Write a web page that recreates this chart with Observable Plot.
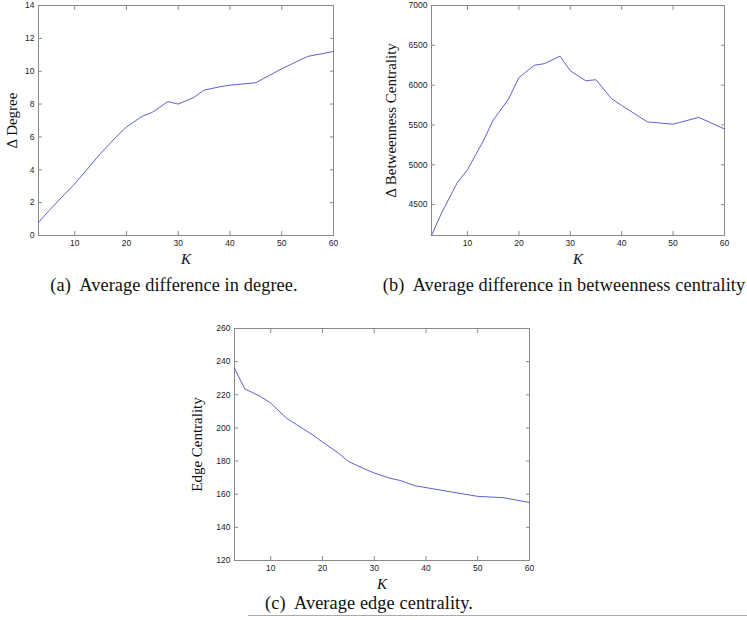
<!DOCTYPE html>
<html>
<head>
<meta charset="utf-8">
<script src="https://cdn.jsdelivr.net/npm/d3@7"></script>
<script src="https://cdn.jsdelivr.net/npm/@observablehq/plot@0.6"></script>
<style>
  html, body { margin: 0; padding: 0; background: #fff; }
  #wrap { position: relative; width: 747px; height: 620px; overflow: hidden; }
  .panel { position: absolute; }
  .cap { position: absolute; font-family: "Liberation Serif", serif; font-size: 18.3px; letter-spacing: 0.1px; color: #111; white-space: pre; transform: translate(-50%, -50%); }
  #rule { position: absolute; left: 248px; top: 615px; width: 499px; height: 1px; background: #aaa; }
</style>
</head>
<body>
<div id="wrap"></div>
<script>
// ---- data ----
const K = [3, 5, 8, 10, 13, 15, 18, 20, 23, 25, 28, 30, 33, 35, 38, 40, 45, 50, 55, 60];
const deltaDegree = [0.8, 1.5, 2.5, 3.15, 4.25, 5.0, 6.0, 6.6, 7.25, 7.5, 8.15, 8.0, 8.4, 8.85, 9.05, 9.15, 9.3, 10.15, 10.9, 11.2];
const deltaBetweenness = [4112, 4400, 4773, 4938, 5290, 5560, 5826, 6095, 6250, 6270, 6364, 6180, 6055, 6068, 5830, 5745, 5538, 5510, 5595, 5450];
const edgeCentrality = [236, 223.5, 219, 215, 206, 202, 196, 191.5, 185, 179.8, 175.4, 172.8, 169.7, 168.3, 165, 164, 161.3, 158.7, 157.9, 155];

const xTicks = [10, 20, 30, 40, 50, 60];
const yTicksA = [0, 2, 4, 6, 8, 10, 12, 14];
const yTicksB = [4500, 5000, 5500, 6000, 6500, 7000];
const yTicksC = [120, 140, 160, 180, 200, 220, 240, 260];

const xLabel = "K";
const yLabelA = "Δ Degree";
const yLabelB = "Δ Betweenness Centrality";
const yLabelC = "Edge Centrality";
const captionA = "(a)  Average difference in degree.";
const captionB = "(b)  Average difference in betweenness centrality";
const captionC = "(c)  Average edge centrality.";

const lineColor = "#5f5fd8";
const axisColor = "#8a8a8a";

function panel({values, yDomain, yTicks, yLabel, width, height, mL, mR, mT, mB, yLabelDx}) {
  const data = K.map((k, i) => ({k, v: values[i]}));
  const fmt = d3.format("d");
  const tickOpts = {stroke: axisColor, tickSize: -4, tickPadding: 8, fill: "#222", fontSize: 8.5, label: null, tickFormat: fmt};
  return Plot.plot({
    width, height,
    marginLeft: mL, marginRight: mR, marginTop: mT, marginBottom: mB,
    style: {fontFamily: "Liberation Sans, Arial, sans-serif", background: "#fff"},
    x: {domain: [K[0], K[K.length - 1]]},
    y: {domain: yDomain},
    marks: [
      Plot.axisX(xTicks, {...tickOpts, anchor: "bottom"}),
      Plot.axisX(xTicks, {...tickOpts, anchor: "top", tickFormat: () => ""}),
      Plot.axisY(yTicks, {...tickOpts, anchor: "left"}),
      Plot.axisY(yTicks, {...tickOpts, anchor: "right", tickFormat: () => ""}),
      Plot.frame({stroke: axisColor}),
      Plot.line(data, {x: "k", y: "v", stroke: lineColor, strokeWidth: 1}),
      Plot.text([xLabel], {frameAnchor: "bottom", dy: 28, fontFamily: "Liberation Serif, serif", fontStyle: "italic", fontSize: 15, fill: "#111"}),
      Plot.text([yLabel], {frameAnchor: "left", textAnchor: "middle", rotate: -90, dx: yLabelDx, fontFamily: "Liberation Serif, serif", fontSize: 15, fill: "#111"})
    ]
  });
}

const wrap = document.getElementById("wrap");
function place(el, left, top) {
  el.classList.add("panel");
  el.style.left = left + "px";
  el.style.top = top + "px";
  wrap.appendChild(el);
}

place(panel({values: deltaDegree, yDomain: [0, 14], yTicks: yTicksA, yLabel: yLabelA,
  width: 345, height: 275, mL: 38, mR: 12, mT: 5, mB: 40, yLabelDx: -26.5}), 0, 0);
place(panel({values: deltaBetweenness, yDomain: [deltaBetweenness[0], 7000], yTicks: yTicksB, yLabel: yLabelB,
  width: 355, height: 275, mL: 51, mR: 11, mT: 5, mB: 40, yLabelDx: -40}), 380, 0);
place(panel({values: edgeCentrality, yDomain: [120, 260], yTicks: yTicksC, yLabel: yLabelC,
  width: 360, height: 280, mL: 54, mR: 11, mT: 8, mB: 40, yLabelDx: -37}), 180, 320);

function caption(text, cx, cy) {
  const d = document.createElement("div");
  d.className = "cap";
  d.textContent = text;
  d.style.left = cx + "px";
  d.style.top = cy + "px";
  wrap.appendChild(d);
}
caption(captionA, 174, 285);
caption(captionB, 564, 285);
caption(captionC, 369, 603);

const rule = document.createElement("div");
rule.id = "rule";
wrap.appendChild(rule);
</script>
</body>
</html>
